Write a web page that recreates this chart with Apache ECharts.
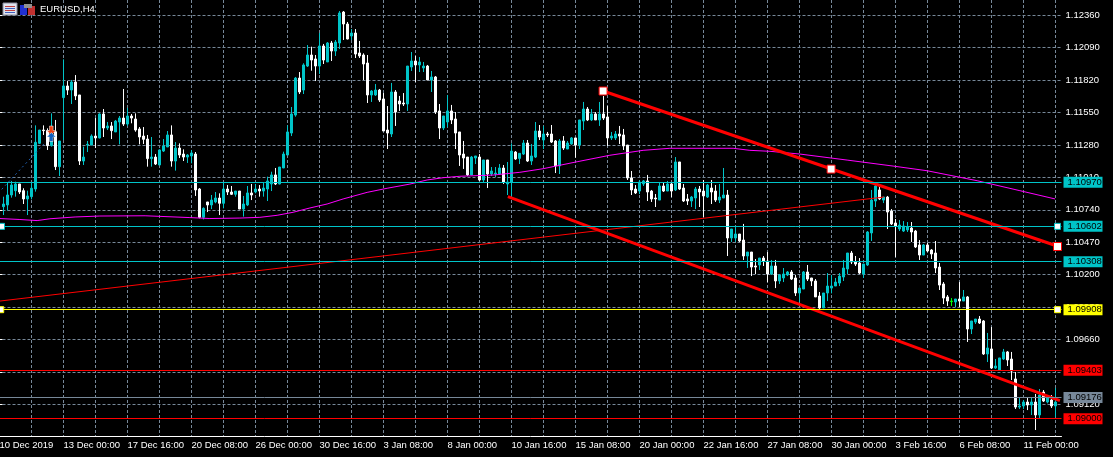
<!DOCTYPE html>
<html><head><meta charset="utf-8">
<style>html,body{margin:0;padding:0;background:#000}#c{width:1113px;height:457px}</style>
<script src="https://cdn.jsdelivr.net/npm/echarts@6/dist/echarts.min.js"></script>
</head><body><div id="c"></div>
<script>
// Quotes are in points (1e-5 of a price unit), one entry per H4 bar.
const direction = "ccccwwcccc"+"wwcwccwcww"+"cccwcwcwcc"+"wcwwwwwcwc"+"ccwcwwccww"+"cwccwcwwcw"+"ccwcwcccwc"+"ccccwccwwc"+"wcwccwwcww"+"wwccwwwcww"+"wccwccwcww"+"ccwwwwwccw"+"cwcccwccwc"+"cwccwcwwwc"+"wccwccwcwc"+"wwccwwwwwc"+"cwwwcwcwcw"+"wwccwwcwwc"+"cwccwwcwwc"+"wwcwcccwwc"+"cwwwwccccc"+"ccwwwccccw"+"cwwwcccwww"+"cwwwwwwgcw"+"cwccwwcwcc"+"cwwwccwcwc"+"wcwc";
const highs = [
110849,110966,110980,110974,110955,110919,110899,110966,111443,111404,
111443,111418,111543,111488,111313,111993,111812,111821,111862,111696,
111266,111313,111368,111504,111543,111579,111471,111471,111488,111521,
111746,111588,111538,111543,111429,111429,111363,111346,111204,111243,
111329,111396,111443,111304,111293,111243,111204,111238,111221,110921,
110760,110805,110863,110888,110877,110966,110946,110938,110896,110896,
110855,110938,110955,110955,110946,110966,111016,111057,111088,111096,
111224,111443,111596,111846,111887,111960,112112,112098,112029,112212,
112121,112137,112146,112154,112395,112395,112304,112245,112245,112146,
112043,112029,111737,111787,111746,111712,111604,111796,111737,111688,
111712,111937,112054,112021,112012,111971,111946,111896,111854,111621,
111521,111696,111613,111554,111388,111313,111179,111188,111188,111204,
111155,111155,111096,111096,111121,111113,111138,111293,111229,111210,
111321,111321,111288,111471,111446,111438,111388,111446,111321,111329,
111354,111313,111346,111338,111488,111638,111596,111579,111554,111638,
111688,111604,111388,111396,111438,111413,111279,111063,110946,110988,
110988,111030,110905,110871,110971,110971,110980,110963,111179,111138,
110955,110871,110855,110930,110938,110988,110955,110988,110946,110955,
111088,110905,110580,110597,110538,110622,110388,110388,110330,110338,
110355,110388,110322,110322,110205,110255,110230,110238,110197,110088,
110230,110280,110172,110163,110055,110047,110213,110197,110172,110213,
110322,110380,110397,110355,110338,110288,110563,110905,110955,110930,
110846,110855,110746,110663,110655,110646,110638,110638,110572,110488,
110455,110463,110413,110480,110297,110138,110030,110005,109997,110138,
110072,110022,109814,109830,109855,109822,109714,109764,109497,109506,
109581,109564,109556,109389,109172,109156,109172,109172,109206,109247,
109239,109197,109197,109256];
const bodyTop = [
110788,110863,110946,110955,110955,110899,110855,110919,111302,111404,
111404,111399,111321,111390,111313,111771,111771,111804,111804,111696,
111179,111285,111354,111354,111538,111538,111438,111438,111479,111504,
111504,111521,111521,111496,111413,111354,111329,111179,111179,111238,
111271,111363,111363,111254,111254,111204,111196,111213,111204,110913,
110752,110805,110821,110838,110838,110913,110913,110888,110896,110896,
110788,110880,110880,110913,110913,110921,110980,111030,111030,111096,
111204,111388,111538,111837,111837,111946,112029,112029,111996,112104,
112104,112129,112129,112137,112379,112387,112287,112212,112212,112046,
112029,111962,111729,111737,111737,111663,111404,111721,111721,111646,
111629,111937,111979,111979,111971,111937,111937,111846,111846,111563,
111521,111563,111563,111496,111388,111204,111179,111179,111188,111179,
111155,111155,111063,111046,111088,111088,110971,111229,111221,111210,
111296,111296,111188,111396,111396,111371,111371,111371,111313,111313,
111313,111296,111338,111338,111488,111579,111579,111538,111538,111538,
111538,111513,111354,111371,111371,111363,111279,111005,110913,110971,
110980,110980,110896,110838,110938,110938,110955,110955,111138,111138,
110921,110830,110846,110913,110913,110896,110946,110921,110896,110846,
110863,110863,110580,110538,110538,110488,110388,110388,110272,110338,
110338,110313,110272,110272,110197,110205,110222,110222,110172,110088,
110222,110222,110172,110147,110022,110047,110105,110105,110138,110188,
110255,110380,110380,110305,110297,110288,110555,110821,110938,110905,
110846,110846,110730,110630,110613,110605,110597,110588,110563,110447,
110447,110447,110405,110380,110263,110122,110014,109980,109997,109997,
110014,110014,109814,109830,109830,109814,109589,109581,109439,109506,
109556,109556,109497,109331,109106,109139,109139,109139,109139,109197,
109222,109172,109156,109139];
const bodyBottom = [
110766,110780,110863,110899,110888,110830,110830,110849,110913,111293,
111399,111274,111274,111099,111099,111674,111737,111737,111688,111146,
111146,111279,111279,111338,111338,111421,111421,111399,111388,111471,
111454,111454,111504,111404,111346,111327,111166,111166,111121,111113,
111229,111263,111146,111146,111196,111179,111179,111188,110905,110677,
110677,110780,110780,110805,110794,110794,110888,110869,110869,110746,
110746,110780,110863,110888,110896,110896,110913,110955,110955,110955,
111088,111196,111379,111529,111721,111737,111937,111987,111937,111937,
111987,111971,112062,112062,112129,112287,112162,112187,112037,112021,
111954,111696,111696,111696,111654,111396,111379,111371,111554,111621,
111621,111621,111929,111946,111946,111921,111821,111821,111554,111421,
111421,111471,111488,111379,111196,111171,111030,111030,111171,110988,
110988,111038,111038,111038,111038,110971,110955,110971,111163,111168,
111204,111146,111146,111179,111346,111321,111363,111304,111105,111105,
111254,111246,111288,111279,111279,111479,111488,111488,111488,111488,
111504,111338,111338,111338,111354,111271,111005,110905,110880,110896,
110955,110888,110830,110830,110821,110896,110896,110896,110905,110913,
110813,110813,110813,110838,110888,110855,110846,110888,110821,110821,
110838,110505,110505,110505,110480,110355,110355,110263,110263,110280,
110313,110205,110205,110147,110147,110172,110197,110163,110047,110047,
110080,110163,110147,110014,109922,109922,110047,110088,110105,110130,
110180,110247,110305,110288,110213,110205,110280,110547,110813,110830,
110821,110721,110622,110605,110580,110563,110572,110555,110430,110363,
110363,110397,110372,110255,110113,110005,109980,109975,109972,109980,
109980,109747,109747,109805,109797,109539,109539,109422,109422,109406,
109497,109489,109397,109097,109097,109106,109114,109114,109031,109031,
109147,109139,109106,109106];
const lows = [
110696,110733,110841,110849,110871,110788,110696,110827,110891,111288,
111363,111238,111266,111071,111021,111321,111696,111621,111654,111113,
111113,111221,111277,111254,111335,111346,111404,111329,111388,111285,
111438,111438,111460,111390,111285,111288,111099,111099,111113,111113,
111221,111263,111099,111066,111171,111146,111130,111127,110855,110669,
110660,110721,110746,110794,110696,110752,110863,110863,110849,110746,
110683,110771,110821,110877,110849,110849,110813,110896,110946,110952,
111088,111196,111354,111515,111704,111704,111929,111898,111812,111871,
111954,111971,111979,112021,112079,112154,112159,112154,112004,112004,
111821,111629,111638,111688,111638,111396,111246,111346,111438,111563,
111604,111563,111896,111804,111887,111887,111821,111721,111538,111329,
111404,111429,111454,111246,111105,111080,111021,111030,111121,110980,
110963,110921,111021,111013,111030,110955,110863,110849,111155,111121,
111196,111138,111113,111171,111321,111246,111346,111296,111046,111038,
111238,111246,111282,111174,111246,111404,111479,111479,111488,111438,
111488,111271,111321,111321,111288,111238,110988,110863,110871,110871,
110938,110813,110805,110763,110821,110888,110896,110846,110896,110905,
110805,110780,110763,110746,110763,110680,110838,110788,110805,110796,
110838,110355,110472,110472,110472,110322,110255,110188,110205,110238,
110272,110138,110197,110088,110122,110138,110188,110155,110022,109972,
110080,110147,110105,110014,109914,109922,109980,110044,110105,110105,
110147,110205,110288,110272,110205,110172,110272,110480,110763,110821,
110796,110580,110613,110347,110563,110555,110555,110472,110422,110322,
110363,110388,110330,110213,110072,109955,109939,109939,109930,109930,
109980,109639,109705,109789,109789,109531,109472,109414,109414,109406,
109489,109439,109322,109081,109081,109081,109072,109031,108906,109006,
109139,109128,109089,109014];

const tickLabels = ["10 Dec 2019","13 Dec 00:00","17 Dec 16:00","20 Dec 08:00","26 Dec 00:00","30 Dec 16:00","3 Jan 08:00","8 Jan 00:00","10 Jan 16:00","15 Jan 08:00","20 Jan 00:00","22 Jan 16:00","27 Jan 08:00","30 Jan 00:00","3 Feb 16:00","6 Feb 08:00","11 Feb 00:00"];
const priceTicks = [1.0912,1.0939,1.0966,1.0993,1.102,1.1047,1.1074,1.1101,1.1128,1.1155,1.1182,1.1209,1.1236];

const levelCyan = [1.1097,1.10602,1.10308];
const levelSupport = 1.09908;
const levelRed = [1.09403,1.09];
const levelLast = 1.09176;

// Overlays are given as [bar position, price].
const movingAverage = [[.6,1.10667],[5.6,1.10659],[9.9,1.1065],[13.1,1.10665],[19.4,1.1068],[25.6,1.10688],[36.9,1.1069],[48.1,1.10675],[53.1,1.10667],[60.6,1.10671],[65.6,1.10677],[69.9,1.10694],[73.9,1.10719],[78.1,1.10755],[82.4,1.10788],[86.4,1.1083],[92.4,1.10885],[97.4,1.10919],[103.1,1.10954],[107.4,1.10988],[111.4,1.11007],[115.6,1.11019],[123.9,1.11029],[130.6,1.11052],[136.4,1.11082],[144.9,1.1114],[153.1,1.11194],[161.4,1.11235],[168.1,1.11252],[183.9,1.11252],[188.1,1.11235],[193.1,1.11227],[200.6,1.11204],[212.4,1.11154],[223.9,1.11104],[232.4,1.11065],[244.9,1.10982],[255.6,1.10899],[264.4,1.1083]];
const channelUpper = [[151.4,1.11729],[265.6,1.1043]];
const channelLower = [[127.6,1.1085],[265.6,1.0915]];
const thinTrend = [[.625,1.0998],[221.6,1.10846]];
const tradeLink = [[1.05,1.1091],[11.6,1.11288]];
const channelAnchors = [[151.4,1.11729],[208.4,1.11079],[265,1.10434]];
const levelAnchors = [[1,1.10602],[265,1.10602]];
const supportAnchors = [[.8,1.09908],[265,1.09908]];
const tradeSell = [[13.45,1.114]];
const tradeBuy = [[13.45,1.11346]];

const CYAN='#00c4c8', FONT='"Liberation Sans", Arial, sans-serif';
const price = p => p/100000;
// one empty slot before and after so the first tick label sits off the first bar
const barCount = direction.length + 2;
const categories = Array.from({length:barCount},(_,j)=> j%16===0 ? (tickLabels[j/16]||'') : '');
const candles = [['-','-','-','-']];
for (let i=0;i<direction.length;i++){
  const d=direction[i], up=d!=='w';
  const v=[price(up?bodyBottom[i]:bodyTop[i]),price(up?bodyTop[i]:bodyBottom[i]),price(lows[i]),price(highs[i])];
  candles.push(d==='g'?{value:v,itemStyle:{color:'#00ff00',borderColor:'#00ff00'}}:v);
}
candles.push(['-','-','-','-']);

const levelMark=(v,color,bg)=>({yAxis:v,lineStyle:{color,width:1,type:'solid'},
  label:{show:true,position:'end',distance:2,formatter:v.toFixed(5),color:'#000',backgroundColor:bg,
    fontFamily:FONT,fontSize:9.5,width:31,height:10,lineHeight:10,padding:[1,4,0,4],align:'left',verticalAlign:'middle'}});

const overlay=(data,color,width,extra)=>Object.assign({type:'line',xAxisIndex:1,yAxisIndex:0,data,symbol:'none',silent:true,
  lineStyle:{color,width,type:'solid'},z:4,clip:true},extra||{});
const marks=(data,symbol,size,color,border,bw,z)=>({type:'scatter',xAxisIndex:1,yAxisIndex:0,data,symbol,symbolSize:size,silent:true,clip:false,
  itemStyle:{color,borderColor:border,borderWidth:bw,opacity:1},z:z||6});

const chart=echarts.init(document.getElementById('c'),null,{renderer:'canvas'});
chart.setOption({
  animation:false,backgroundColor:'#000',
  title:{text:'EURUSD,H4',left:35,top:-1,textStyle:{color:'#fff',fontSize:9.5,fontWeight:'normal',fontFamily:FONT}},
  grid:{left:-2.5,top:0,width:barCount*4,height:436,containLabel:false,outerBoundsMode:'none'},
  xAxis:[{type:'category',data:categories,boundaryGap:true,
      axisLine:{lineStyle:{color:'#fff',width:1}},
      axisTick:{alignWithLabel:true,length:3,interval:(j)=>j%16===0,lineStyle:{color:'#fff'}},
      axisLabel:{interval:(j)=>j%16===0,align:'left',color:'#fff',fontFamily:FONT,fontSize:9.5,margin:4,hideOverlap:false,showMinLabel:true},
      splitLine:{show:true,alignWithLabel:true,interval:(j)=>j%8===0&&j>0,lineStyle:{color:'#778899',width:1,type:[3,2]}}},
    {type:'value',min:0,max:barCount,show:false,splitLine:{show:false}}],
  yAxis:[{type:'value',position:'right',offset:-1,min:1.08856,max:1.12487,scale:true,
    axisLine:{show:true,lineStyle:{color:'#fff',width:1}},
    axisTick:{show:true,length:4,lineStyle:{color:'#fff'},customValues:priceTicks},
    axisLabel:{color:'#fff',fontFamily:FONT,fontSize:9.5,margin:5,customValues:priceTicks,formatter:v=>v.toFixed(5)},
    splitLine:{show:true,lineStyle:{color:'#778899',width:1,type:[3,2]}}}],
  graphic:[
    {type:'rect',shape:{x:3,y:3,width:14,height:12},style:{fill:'#dfe4ee',stroke:'#8a8a9a'},z:20},
    {type:'rect',shape:{x:5,y:6,width:10,height:1},style:{fill:'#c04040'},z:21},
    {type:'rect',shape:{x:5,y:8,width:10,height:1},style:{fill:'#4060c0'},z:21},
    {type:'rect',shape:{x:5,y:10,width:10,height:1},style:{fill:'#c04040'},z:21},
    {type:'rect',shape:{x:5,y:12,width:10,height:1},style:{fill:'#4060c0'},z:21},
    {type:'rect',shape:{x:20,y:5,width:7,height:10},style:{fill:'#2030d0'},z:20},
    {type:'rect',shape:{x:28,y:6,width:7,height:9},style:{fill:'#c03030'},z:20},
    {type:'rect',shape:{x:24,y:4,width:8,height:4},style:{fill:'#909090'},z:21}
  ],
  series:[
    {type:'candlestick',xAxisIndex:0,yAxisIndex:0,data:candles,barWidth:3,silent:true,z:2,
      itemStyle:{color:CYAN,color0:'#fff',borderColor:CYAN,borderColor0:'#fff',borderWidth:1},
      markLine:{silent:true,symbol:'none',precision:5,animation:false,z:5,data:[
        levelMark(levelCyan[0],CYAN,CYAN),levelMark(levelCyan[1],CYAN,CYAN),levelMark(levelCyan[2],CYAN,CYAN),
        levelMark(levelSupport,'#ffff00','#ffff00'),
        levelMark(levelRed[0],'#ff0000','#ff0000'),levelMark(levelRed[1],'#ff0000','#ff0000'),
        levelMark(levelLast,'#778899','#778899')]}},
    overlay(movingAverage,'#ff00ff',1),
    overlay(thinTrend,'#ff0000',1),
    overlay(tradeLink,'#1f5fb0',1,{lineStyle:{color:'#1f5fb0',width:1,type:[2,3]}}),
    overlay(channelUpper,'#ff0000',3),
    overlay(channelLower,'#ff0000',3),
    marks(channelAnchors,'rect',8,'#fff','#ff0000',1),
    marks(levelAnchors,'rect',6,'#fff',CYAN,1),
    marks(supportAnchors,'rect',6,'#fff','#ffff00',1),
    marks(tradeSell,'path://M3 0 L7 0 L7 5 L10 5 L5 10 L0 5 L3 5 Z',9,'#f04010','#fff',0.5),
    marks(tradeBuy,'path://M5 0 L10 5 L7 5 L7 10 L3 10 L3 5 L0 5 Z',9,'#1060c0','#fff',0.5)
  ]
});
</script></body></html>
